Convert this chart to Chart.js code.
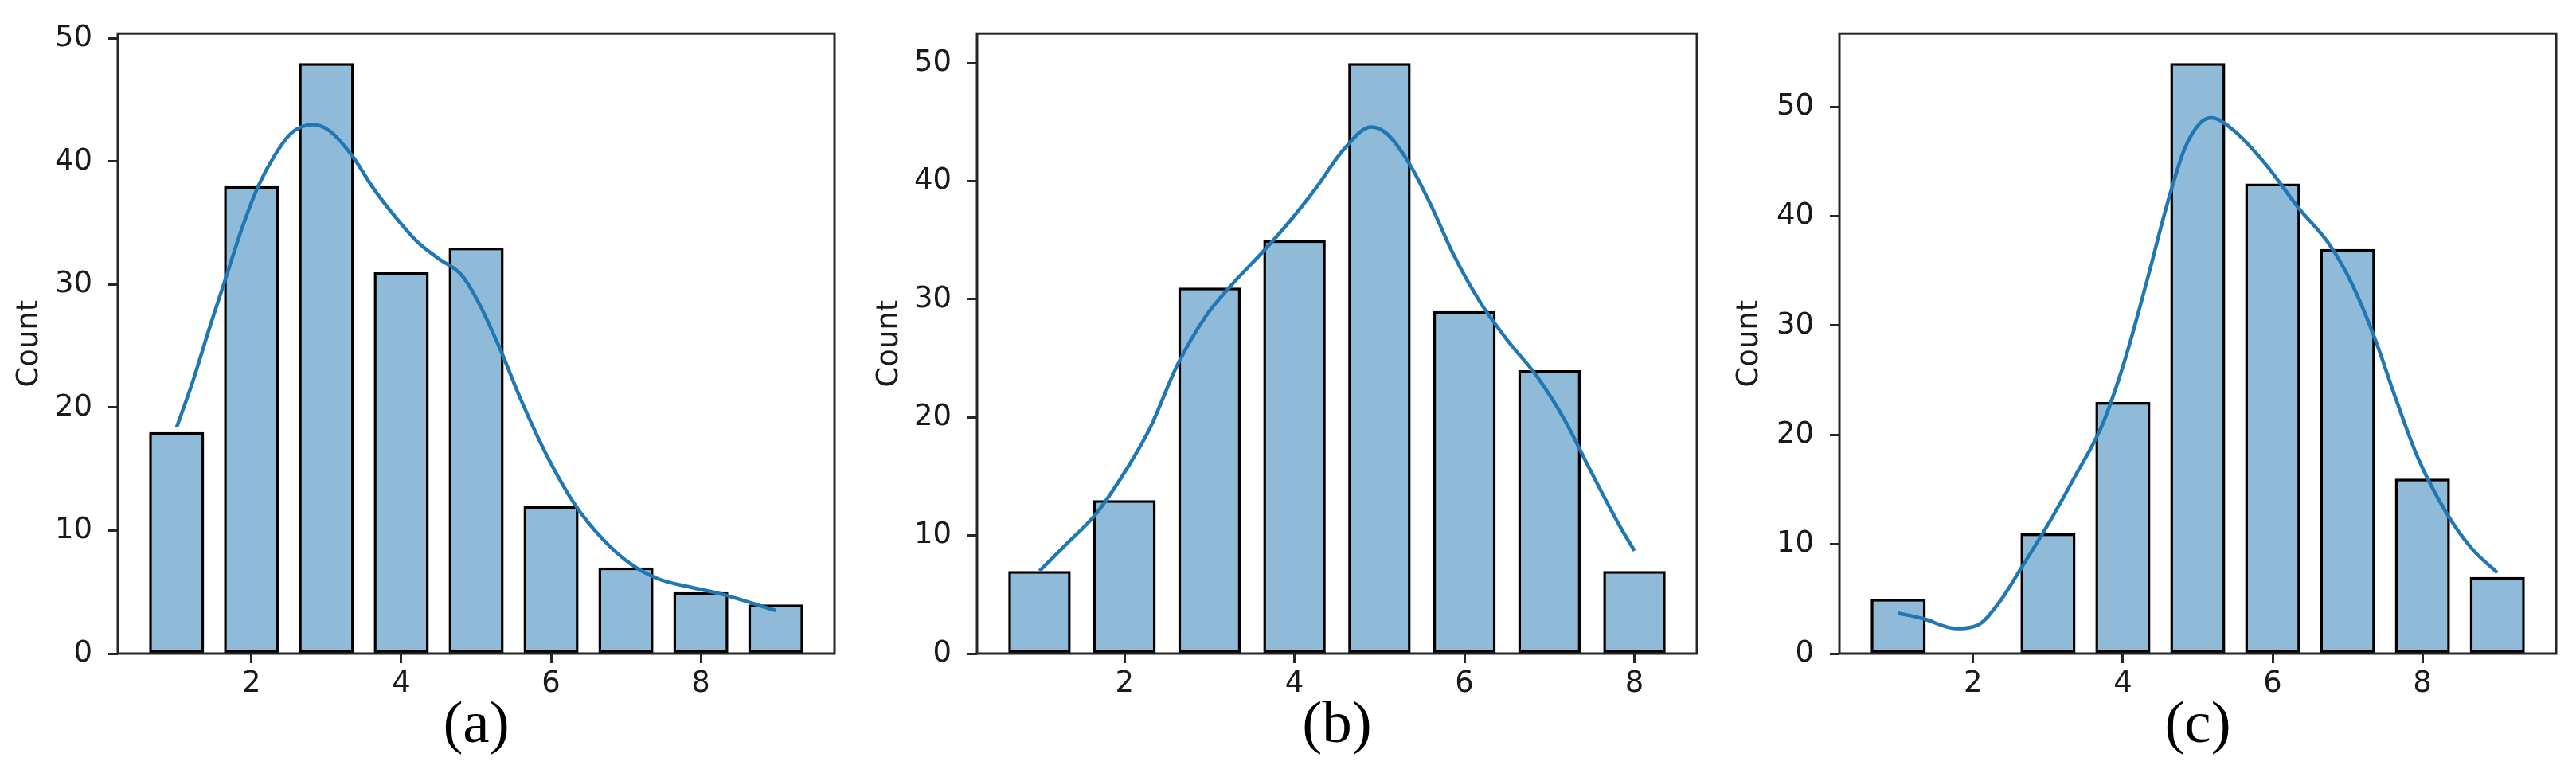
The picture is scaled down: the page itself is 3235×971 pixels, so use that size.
<!DOCTYPE html>
<html>
<head>
<meta charset="utf-8">
<script src="https://cdn.jsdelivr.net/npm/chart.js@4.4.1/dist/chart.umd.min.js"></script>
<style>
  html, body { margin: 0; padding: 0; background: #ffffff; }
  body { width: 3235px; height: 971px; position: relative; overflow: hidden; }
  canvas { position: absolute; top: 0; }
</style>
</head>
<body>
<canvas id="chartA" width="1080" height="971" style="left:0px"></canvas>
<canvas id="chartB" width="1080" height="971" style="left:1080px"></canvas>
<canvas id="chartC" width="1075" height="971" style="left:2160px"></canvas>
<script>
// ---------------- DATA ----------------
const xTickValues = [2, 4, 6, 8];
const yTickValues = [0, 10, 20, 30, 40, 50];
const yAxisTitle = "Count";

// Panel (a)
const panelATitle = "(a)";
const binsA = [1, 2, 3, 4, 5, 6, 7, 8, 9];
const countsA = [18, 38, 48, 31, 33, 12, 7, 5, 4];
const kdeAx = [1.0, 1.22, 1.44, 1.66, 1.88, 2.09, 2.31, 2.53, 2.82, 3.04, 3.34, 3.63, 3.92, 4.21, 4.50, 4.80, 5.01, 5.31, 5.60, 5.96, 6.33, 6.69, 7.06, 7.42, 7.86, 8.30, 9.0];
const kdeAy = [18.4, 22.2, 26.5, 30.6, 34.7, 38.0, 40.5, 42.3, 43.0, 42.5, 40.5, 37.8, 35.5, 33.5, 32.1, 30.8, 28.8, 24.9, 20.6, 15.9, 12.0, 9.3, 7.3, 6.1, 5.4, 4.8, 3.5];

// Panel (b)
const panelBTitle = "(b)";
const binsB = [1, 2, 3, 4, 5, 6, 7, 8];
const countsB = [7, 13, 31, 35, 50, 29, 24, 7];
const kdeBx = [1.0, 1.32, 1.65, 1.97, 2.30, 2.62, 2.95, 3.27, 3.60, 3.92, 4.25, 4.57, 4.90, 5.09, 5.35, 5.61, 5.87, 6.19, 6.52, 6.84, 7.17, 7.49, 7.82, 8.0];
const kdeBy = [7.0, 9.3, 11.7, 15.0, 19.1, 24.4, 28.5, 31.3, 33.8, 36.4, 39.4, 42.6, 44.6, 44.0, 41.5, 37.9, 33.8, 29.7, 26.4, 23.6, 19.9, 15.4, 10.9, 8.7];

// Panel (c)
const panelCTitle = "(c)";
const binsC = [1, 2, 3, 4, 5, 6, 7, 8, 9];
const countsC = [5, 0, 11, 23, 54, 43, 37, 16, 7];
const kdeCx = [1.0, 1.33, 1.77, 2.06, 2.35, 2.64, 3.0, 3.36, 3.73, 4.02, 4.31, 4.60, 4.82, 5.03, 5.18, 5.47, 5.90, 6.34, 6.77, 7.06, 7.36, 7.65, 7.94, 8.30, 8.66, 9.0];
const kdeCy = [3.7, 3.2, 2.3, 2.6, 4.7, 7.8, 11.8, 16.2, 21.0, 26.7, 33.8, 41.3, 46.1, 48.5, 49.0, 47.9, 44.8, 40.8, 37.3, 33.8, 28.9, 23.2, 17.9, 13.1, 9.6, 7.4];

// ---------------- STYLE ----------------
const BAR_FILL = "rgba(31,119,180,0.5)";
const LINE_COLOR = "#1f77b4";
const AXIS_COLOR = "#262626";
const TICK_FONT = { family: "'DejaVu Sans', sans-serif", size: 37 };
const TITLE_FONT = { family: "'Liberation Serif', 'Times New Roman', serif", size: 75 };

Chart.defaults.color = "#1a1a1a";

const framePlugin = {
  id: "frame",
  afterDatasetsDraw(chart) {
    const { ctx, chartArea: a } = chart;
    ctx.save();
    ctx.strokeStyle = AXIS_COLOR;
    ctx.lineWidth = 3;
    ctx.strokeRect(a.left, a.top, a.right - a.left, a.bottom - a.top);
    ctx.restore();
  }
};

function makeChart(id, bins, counts, kx, ky, title, cfg) {
  const barData = bins.map((b, i) => ({ x: b, y: counts[i] > 0 ? counts[i] : null }));
  const lineData = kx.map((x, i) => ({ x: x, y: ky[i] }));
  const maxCount = Math.max(...counts);
  return new Chart(document.getElementById(id), {
    type: "bar",
    data: {
      datasets: [
        {
          type: "line",
          data: lineData,
          borderColor: LINE_COLOR,
          borderWidth: 4.5,
          pointRadius: 0,
          cubicInterpolationMode: "monotone",
          fill: false,
          order: 0
        },
        {
          type: "bar",
          data: barData,
          backgroundColor: BAR_FILL,
          borderColor: "#000000",
          borderWidth: 3.5,
          borderSkipped: false,
          barPercentage: 0.735,
          categoryPercentage: 1.0,
          order: 1
        }
      ]
    },
    options: {
      responsive: false,
      animation: false,
      devicePixelRatio: 1,
      layout: { padding: { top: 28, right: cfg.right, left: 0, bottom: 0 } },
      plugins: { legend: { display: false }, tooltip: { enabled: false } },
      scales: {
        x: {
          type: "linear",
          offset: false,
          min: cfg.xmin,
          max: cfg.xmax,
          afterBuildTicks: (axis) => { axis.ticks = xTickValues.map(v => ({ value: v })); },
          afterFit: (axis) => { axis.height = 150; },
          border: { display: false },
          grid: { display: true, offset: false, drawOnChartArea: false, drawTicks: true, tickLength: 12, tickWidth: 3, tickColor: AXIS_COLOR },
          ticks: { font: TICK_FONT, color: "#1a1a1a", padding: 4, maxRotation: 0, autoSkip: false },
          title: { display: true, text: title, font: TITLE_FONT, color: "#000000", padding: { top: 0, bottom: 14 } }
        },
        y: {
          type: "linear",
          min: 0,
          max: maxCount * 1.05,
          afterBuildTicks: (axis) => { axis.ticks = yTickValues.filter(v => v <= maxCount * 1.05).map(v => ({ value: v })); },
          afterFit: (axis) => { axis.width = cfg.yw; },
          border: { display: false },
          grid: { display: true, drawOnChartArea: false, drawTicks: true, tickLength: 12, tickWidth: 3, tickColor: AXIS_COLOR },
          ticks: { font: TICK_FONT, color: "#1a1a1a", padding: 20, autoSkip: false },
          title: { display: true, text: yAxisTitle, font: TICK_FONT, color: "#1a1a1a", padding: { top: 15, bottom: 0 } }
        }
      }
    },
    plugins: [framePlugin]
  });
}

makeChart("chartA", binsA, countsA, kdeAx, kdeAy, panelATitle, { right: 1080 - 1048, yw: 148, xmin: 0.215, xmax: 9.785 });
makeChart("chartB", binsB, countsB, kdeBx, kdeBy, panelBTitle, { right: 1080 - 1051, yw: 147, xmin: 0.265, xmax: 8.735 });
makeChart("chartC", binsC, countsC, kdeCx, kdeCy, panelCTitle, { right: 1075 - 1050, yw: 150, xmin: 0.215, xmax: 9.785 });
</script>
</body>
</html>
